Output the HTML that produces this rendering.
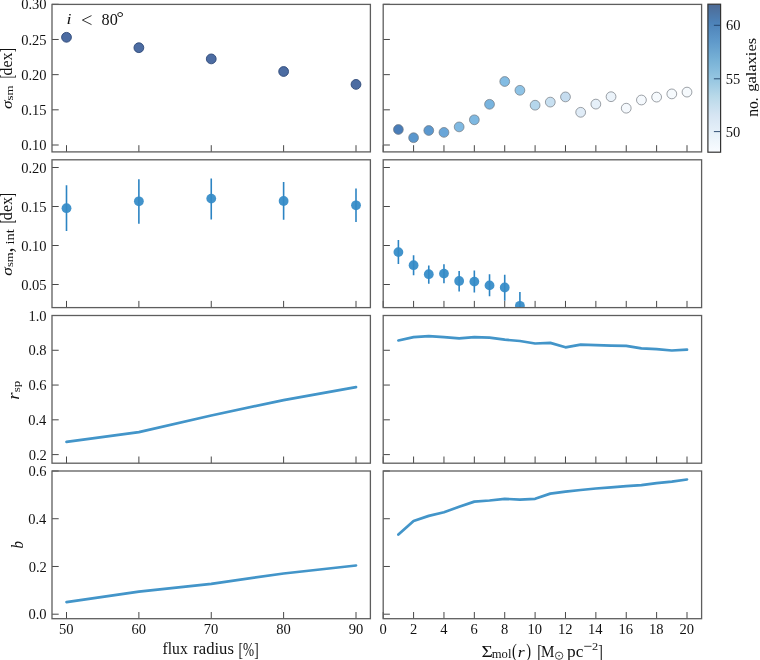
<!DOCTYPE html><html><head><meta charset="utf-8"><style>html,body{margin:0;padding:0;background:#fff;width:760px;height:660px;overflow:hidden}svg{display:block;will-change:transform}text{font-family:"Liberation Serif",serif;fill:#111111}</style></head><body>
<svg width="760" height="660" viewBox="0 0 760 660">
<defs>
<clipPath id="cl0"><rect x="52.00" y="4.40" width="318.40" height="147.50"/></clipPath>
<clipPath id="cr0"><rect x="383.20" y="4.40" width="318.40" height="147.50"/></clipPath>
<clipPath id="cl1"><rect x="52.00" y="159.80" width="318.40" height="147.80"/></clipPath>
<clipPath id="cr1"><rect x="383.20" y="159.80" width="318.40" height="147.80"/></clipPath>
<clipPath id="cl2"><rect x="52.00" y="315.50" width="318.40" height="147.70"/></clipPath>
<clipPath id="cr2"><rect x="383.20" y="315.50" width="318.40" height="147.70"/></clipPath>
<clipPath id="cl3"><rect x="52.00" y="471.00" width="318.40" height="147.70"/></clipPath>
<clipPath id="cr3"><rect x="383.20" y="471.00" width="318.40" height="147.70"/></clipPath>
<linearGradient id="cb" x1="0" y1="1" x2="0" y2="0">
<stop offset="0.000" stop-color="#f9fcff"/>
<stop offset="0.125" stop-color="#e7f1f9"/>
<stop offset="0.250" stop-color="#d6e5f3"/>
<stop offset="0.375" stop-color="#b9d9e9"/>
<stop offset="0.500" stop-color="#94c5e1"/>
<stop offset="0.625" stop-color="#77b1d6"/>
<stop offset="0.750" stop-color="#5f99ca"/>
<stop offset="0.875" stop-color="#4d82b8"/>
<stop offset="1.000" stop-color="#4d6a94"/>
</linearGradient>
</defs>
<g clip-path="url(#cl0)">
<circle cx="66.50" cy="37.30" r="4.9" fill="#4c6ca2" stroke="#2f4a78" stroke-width="0.9"/>
<circle cx="138.88" cy="47.70" r="4.9" fill="#4c6ca2" stroke="#2f4a78" stroke-width="0.9"/>
<circle cx="211.25" cy="58.90" r="4.9" fill="#4c6ca2" stroke="#2f4a78" stroke-width="0.9"/>
<circle cx="283.62" cy="71.50" r="4.9" fill="#4c6ca2" stroke="#2f4a78" stroke-width="0.9"/>
<circle cx="356.00" cy="84.40" r="4.9" fill="#4c6ca2" stroke="#2f4a78" stroke-width="0.9"/>
</g>
<g clip-path="url(#cr0)">
<circle cx="398.39" cy="129.50" r="4.9" fill="#497db8" stroke="#6f757c" stroke-opacity="0.8" stroke-width="0.85"/>
<circle cx="413.58" cy="137.70" r="4.9" fill="#5a97cd" stroke="#6f757c" stroke-opacity="0.8" stroke-width="0.85"/>
<circle cx="428.77" cy="130.50" r="4.9" fill="#5b98cf" stroke="#6f757c" stroke-opacity="0.8" stroke-width="0.85"/>
<circle cx="443.96" cy="132.40" r="4.9" fill="#6aa6d8" stroke="#6f757c" stroke-opacity="0.8" stroke-width="0.85"/>
<circle cx="459.15" cy="126.90" r="4.9" fill="#7fb9e2" stroke="#6f757c" stroke-opacity="0.8" stroke-width="0.85"/>
<circle cx="474.34" cy="119.80" r="4.9" fill="#7eb8e1" stroke="#6f757c" stroke-opacity="0.8" stroke-width="0.85"/>
<circle cx="489.53" cy="104.30" r="4.9" fill="#78b4df" stroke="#6f757c" stroke-opacity="0.8" stroke-width="0.85"/>
<circle cx="504.72" cy="81.50" r="4.9" fill="#83bce3" stroke="#6f757c" stroke-opacity="0.8" stroke-width="0.85"/>
<circle cx="519.91" cy="90.30" r="4.9" fill="#8ec3e6" stroke="#6f757c" stroke-opacity="0.8" stroke-width="0.85"/>
<circle cx="535.10" cy="105.20" r="4.9" fill="#b5d6ec" stroke="#6f757c" stroke-opacity="0.8" stroke-width="0.85"/>
<circle cx="550.29" cy="102.10" r="4.9" fill="#c8e0f1" stroke="#6f757c" stroke-opacity="0.8" stroke-width="0.85"/>
<circle cx="565.48" cy="96.90" r="4.9" fill="#c5dcef" stroke="#6f757c" stroke-opacity="0.8" stroke-width="0.85"/>
<circle cx="580.67" cy="112.30" r="4.9" fill="#e0ecf7" stroke="#6f757c" stroke-opacity="0.8" stroke-width="0.85"/>
<circle cx="595.86" cy="104.10" r="4.9" fill="#e6f0f9" stroke="#6f757c" stroke-opacity="0.8" stroke-width="0.85"/>
<circle cx="611.05" cy="96.70" r="4.9" fill="#ebf3fa" stroke="#6f757c" stroke-opacity="0.8" stroke-width="0.85"/>
<circle cx="626.24" cy="108.20" r="4.9" fill="#f5f9fd" stroke="#6f757c" stroke-opacity="0.8" stroke-width="0.85"/>
<circle cx="641.43" cy="100.00" r="4.9" fill="#f5f9fd" stroke="#6f757c" stroke-opacity="0.8" stroke-width="0.85"/>
<circle cx="656.62" cy="97.10" r="4.9" fill="#f6fafd" stroke="#6f757c" stroke-opacity="0.8" stroke-width="0.85"/>
<circle cx="671.81" cy="93.90" r="4.9" fill="#f6fafd" stroke="#6f757c" stroke-opacity="0.8" stroke-width="0.85"/>
<circle cx="687.00" cy="92.10" r="4.9" fill="#f6fafd" stroke="#6f757c" stroke-opacity="0.8" stroke-width="0.85"/>
</g>
<g clip-path="url(#cl1)">
<line x1="66.50" y1="185.20" x2="66.50" y2="230.90" stroke="#2c84c3" stroke-width="1.6"/>
<circle cx="66.50" cy="208.20" r="4.9" fill="#348bc7" fill-opacity="0.93"/>
<line x1="138.88" y1="179.20" x2="138.88" y2="223.80" stroke="#2c84c3" stroke-width="1.6"/>
<circle cx="138.88" cy="201.30" r="4.9" fill="#348bc7" fill-opacity="0.93"/>
<line x1="211.25" y1="178.40" x2="211.25" y2="219.50" stroke="#2c84c3" stroke-width="1.6"/>
<circle cx="211.25" cy="198.60" r="4.9" fill="#348bc7" fill-opacity="0.93"/>
<line x1="283.62" y1="182.00" x2="283.62" y2="219.80" stroke="#2c84c3" stroke-width="1.6"/>
<circle cx="283.62" cy="201.00" r="4.9" fill="#348bc7" fill-opacity="0.93"/>
<line x1="356.00" y1="188.40" x2="356.00" y2="221.90" stroke="#2c84c3" stroke-width="1.6"/>
<circle cx="356.00" cy="205.30" r="4.9" fill="#348bc7" fill-opacity="0.93"/>
</g>
<g clip-path="url(#cr1)">
<line x1="398.39" y1="240.10" x2="398.39" y2="264.10" stroke="#2c84c3" stroke-width="1.6"/>
<circle cx="398.39" cy="252.10" r="4.9" fill="#348bc7" fill-opacity="0.93"/>
<line x1="413.58" y1="255.30" x2="413.58" y2="275.30" stroke="#2c84c3" stroke-width="1.6"/>
<circle cx="413.58" cy="265.20" r="4.9" fill="#348bc7" fill-opacity="0.93"/>
<line x1="428.77" y1="265.40" x2="428.77" y2="283.70" stroke="#2c84c3" stroke-width="1.6"/>
<circle cx="428.77" cy="274.20" r="4.9" fill="#348bc7" fill-opacity="0.93"/>
<line x1="443.96" y1="264.30" x2="443.96" y2="283.30" stroke="#2c84c3" stroke-width="1.6"/>
<circle cx="443.96" cy="273.60" r="4.9" fill="#348bc7" fill-opacity="0.93"/>
<line x1="459.15" y1="271.00" x2="459.15" y2="291.50" stroke="#2c84c3" stroke-width="1.6"/>
<circle cx="459.15" cy="281.00" r="4.9" fill="#348bc7" fill-opacity="0.93"/>
<line x1="474.34" y1="270.60" x2="474.34" y2="292.50" stroke="#2c84c3" stroke-width="1.6"/>
<circle cx="474.34" cy="281.60" r="4.9" fill="#348bc7" fill-opacity="0.93"/>
<line x1="489.53" y1="274.20" x2="489.53" y2="296.30" stroke="#2c84c3" stroke-width="1.6"/>
<circle cx="489.53" cy="285.40" r="4.9" fill="#348bc7" fill-opacity="0.93"/>
<line x1="504.72" y1="274.80" x2="504.72" y2="300.80" stroke="#2c84c3" stroke-width="1.6"/>
<circle cx="504.72" cy="287.50" r="4.9" fill="#348bc7" fill-opacity="0.93"/>
<line x1="519.91" y1="292.10" x2="519.91" y2="320.00" stroke="#2c84c3" stroke-width="1.6"/>
<circle cx="519.91" cy="305.80" r="4.9" fill="#348bc7" fill-opacity="0.93"/>
</g>
<polyline clip-path="url(#cl2)" fill="none" stroke="#4395c9" stroke-width="2.7" stroke-linejoin="round" stroke-linecap="round" points="66.50,441.80 138.88,432.10 211.25,415.50 283.62,400.10 356.00,387.10"/>
<polyline clip-path="url(#cr2)" fill="none" stroke="#4395c9" stroke-width="2.7" stroke-linejoin="round" stroke-linecap="round" points="398.39,340.50 413.58,337.10 428.77,336.10 443.96,337.10 459.15,338.40 474.34,337.20 489.53,337.60 504.72,339.70 519.91,341.00 535.10,343.50 550.29,342.90 565.48,347.30 580.67,344.60 595.86,345.20 611.05,345.60 626.24,345.80 641.43,348.40 656.62,349.20 671.81,350.50 687.00,349.60"/>
<polyline clip-path="url(#cl3)" fill="none" stroke="#4395c9" stroke-width="2.7" stroke-linejoin="round" stroke-linecap="round" points="66.50,602.10 138.88,591.60 211.25,583.80 283.62,573.50 356.00,565.50"/>
<polyline clip-path="url(#cr3)" fill="none" stroke="#4395c9" stroke-width="2.7" stroke-linejoin="round" stroke-linecap="round" points="398.39,534.60 413.58,521.00 428.77,515.90 443.96,512.30 459.15,506.80 474.34,501.60 489.53,500.50 504.72,498.80 519.91,499.70 535.10,498.80 550.29,493.60 565.48,491.70 580.67,490.00 595.86,488.50 611.05,487.30 626.24,486.20 641.43,485.20 656.62,483.10 671.81,481.60 687.00,479.50"/>
<line x1="66.50" y1="151.90" x2="66.50" y2="145.20" stroke="#484848" stroke-width="1.0"/>
<line x1="138.88" y1="151.90" x2="138.88" y2="145.20" stroke="#484848" stroke-width="1.0"/>
<line x1="211.25" y1="151.90" x2="211.25" y2="145.20" stroke="#484848" stroke-width="1.0"/>
<line x1="283.62" y1="151.90" x2="283.62" y2="145.20" stroke="#484848" stroke-width="1.0"/>
<line x1="356.00" y1="151.90" x2="356.00" y2="145.20" stroke="#484848" stroke-width="1.0"/>
<line x1="52.00" y1="145.00" x2="58.70" y2="145.00" stroke="#484848" stroke-width="1.0"/>
<line x1="52.00" y1="109.82" x2="58.70" y2="109.82" stroke="#484848" stroke-width="1.0"/>
<line x1="52.00" y1="74.65" x2="58.70" y2="74.65" stroke="#484848" stroke-width="1.0"/>
<line x1="52.00" y1="39.47" x2="58.70" y2="39.47" stroke="#484848" stroke-width="1.0"/>
<line x1="52.00" y1="4.30" x2="58.70" y2="4.30" stroke="#484848" stroke-width="1.0"/>
<rect x="52.00" y="4.40" width="318.40" height="147.50" fill="none" stroke="#5e5e5e" stroke-width="1.3"/>
<line x1="383.20" y1="151.90" x2="383.20" y2="145.20" stroke="#484848" stroke-width="1.0"/>
<line x1="413.58" y1="151.90" x2="413.58" y2="145.20" stroke="#484848" stroke-width="1.0"/>
<line x1="443.96" y1="151.90" x2="443.96" y2="145.20" stroke="#484848" stroke-width="1.0"/>
<line x1="474.34" y1="151.90" x2="474.34" y2="145.20" stroke="#484848" stroke-width="1.0"/>
<line x1="504.72" y1="151.90" x2="504.72" y2="145.20" stroke="#484848" stroke-width="1.0"/>
<line x1="535.10" y1="151.90" x2="535.10" y2="145.20" stroke="#484848" stroke-width="1.0"/>
<line x1="565.48" y1="151.90" x2="565.48" y2="145.20" stroke="#484848" stroke-width="1.0"/>
<line x1="595.86" y1="151.90" x2="595.86" y2="145.20" stroke="#484848" stroke-width="1.0"/>
<line x1="626.24" y1="151.90" x2="626.24" y2="145.20" stroke="#484848" stroke-width="1.0"/>
<line x1="656.62" y1="151.90" x2="656.62" y2="145.20" stroke="#484848" stroke-width="1.0"/>
<line x1="687.00" y1="151.90" x2="687.00" y2="145.20" stroke="#484848" stroke-width="1.0"/>
<line x1="383.20" y1="145.00" x2="389.90" y2="145.00" stroke="#484848" stroke-width="1.0"/>
<line x1="383.20" y1="109.82" x2="389.90" y2="109.82" stroke="#484848" stroke-width="1.0"/>
<line x1="383.20" y1="74.65" x2="389.90" y2="74.65" stroke="#484848" stroke-width="1.0"/>
<line x1="383.20" y1="39.47" x2="389.90" y2="39.47" stroke="#484848" stroke-width="1.0"/>
<line x1="383.20" y1="4.30" x2="389.90" y2="4.30" stroke="#484848" stroke-width="1.0"/>
<rect x="383.20" y="4.40" width="318.40" height="147.50" fill="none" stroke="#5e5e5e" stroke-width="1.3"/>
<line x1="66.50" y1="307.60" x2="66.50" y2="300.90" stroke="#484848" stroke-width="1.0"/>
<line x1="138.88" y1="307.60" x2="138.88" y2="300.90" stroke="#484848" stroke-width="1.0"/>
<line x1="211.25" y1="307.60" x2="211.25" y2="300.90" stroke="#484848" stroke-width="1.0"/>
<line x1="283.62" y1="307.60" x2="283.62" y2="300.90" stroke="#484848" stroke-width="1.0"/>
<line x1="356.00" y1="307.60" x2="356.00" y2="300.90" stroke="#484848" stroke-width="1.0"/>
<line x1="52.00" y1="284.50" x2="58.70" y2="284.50" stroke="#484848" stroke-width="1.0"/>
<line x1="52.00" y1="245.50" x2="58.70" y2="245.50" stroke="#484848" stroke-width="1.0"/>
<line x1="52.00" y1="206.50" x2="58.70" y2="206.50" stroke="#484848" stroke-width="1.0"/>
<line x1="52.00" y1="167.50" x2="58.70" y2="167.50" stroke="#484848" stroke-width="1.0"/>
<rect x="52.00" y="159.80" width="318.40" height="147.80" fill="none" stroke="#5e5e5e" stroke-width="1.3"/>
<line x1="383.20" y1="307.60" x2="383.20" y2="300.90" stroke="#484848" stroke-width="1.0"/>
<line x1="413.58" y1="307.60" x2="413.58" y2="300.90" stroke="#484848" stroke-width="1.0"/>
<line x1="443.96" y1="307.60" x2="443.96" y2="300.90" stroke="#484848" stroke-width="1.0"/>
<line x1="474.34" y1="307.60" x2="474.34" y2="300.90" stroke="#484848" stroke-width="1.0"/>
<line x1="504.72" y1="307.60" x2="504.72" y2="300.90" stroke="#484848" stroke-width="1.0"/>
<line x1="535.10" y1="307.60" x2="535.10" y2="300.90" stroke="#484848" stroke-width="1.0"/>
<line x1="565.48" y1="307.60" x2="565.48" y2="300.90" stroke="#484848" stroke-width="1.0"/>
<line x1="595.86" y1="307.60" x2="595.86" y2="300.90" stroke="#484848" stroke-width="1.0"/>
<line x1="626.24" y1="307.60" x2="626.24" y2="300.90" stroke="#484848" stroke-width="1.0"/>
<line x1="656.62" y1="307.60" x2="656.62" y2="300.90" stroke="#484848" stroke-width="1.0"/>
<line x1="687.00" y1="307.60" x2="687.00" y2="300.90" stroke="#484848" stroke-width="1.0"/>
<line x1="383.20" y1="284.50" x2="389.90" y2="284.50" stroke="#484848" stroke-width="1.0"/>
<line x1="383.20" y1="245.50" x2="389.90" y2="245.50" stroke="#484848" stroke-width="1.0"/>
<line x1="383.20" y1="206.50" x2="389.90" y2="206.50" stroke="#484848" stroke-width="1.0"/>
<line x1="383.20" y1="167.50" x2="389.90" y2="167.50" stroke="#484848" stroke-width="1.0"/>
<rect x="383.20" y="159.80" width="318.40" height="147.80" fill="none" stroke="#5e5e5e" stroke-width="1.3"/>
<line x1="66.50" y1="463.20" x2="66.50" y2="456.50" stroke="#484848" stroke-width="1.0"/>
<line x1="138.88" y1="463.20" x2="138.88" y2="456.50" stroke="#484848" stroke-width="1.0"/>
<line x1="211.25" y1="463.20" x2="211.25" y2="456.50" stroke="#484848" stroke-width="1.0"/>
<line x1="283.62" y1="463.20" x2="283.62" y2="456.50" stroke="#484848" stroke-width="1.0"/>
<line x1="356.00" y1="463.20" x2="356.00" y2="456.50" stroke="#484848" stroke-width="1.0"/>
<line x1="52.00" y1="454.60" x2="58.70" y2="454.60" stroke="#484848" stroke-width="1.0"/>
<line x1="52.00" y1="419.82" x2="58.70" y2="419.82" stroke="#484848" stroke-width="1.0"/>
<line x1="52.00" y1="385.05" x2="58.70" y2="385.05" stroke="#484848" stroke-width="1.0"/>
<line x1="52.00" y1="350.27" x2="58.70" y2="350.27" stroke="#484848" stroke-width="1.0"/>
<line x1="52.00" y1="315.50" x2="58.70" y2="315.50" stroke="#484848" stroke-width="1.0"/>
<rect x="52.00" y="315.50" width="318.40" height="147.70" fill="none" stroke="#5e5e5e" stroke-width="1.3"/>
<line x1="383.20" y1="463.20" x2="383.20" y2="456.50" stroke="#484848" stroke-width="1.0"/>
<line x1="413.58" y1="463.20" x2="413.58" y2="456.50" stroke="#484848" stroke-width="1.0"/>
<line x1="443.96" y1="463.20" x2="443.96" y2="456.50" stroke="#484848" stroke-width="1.0"/>
<line x1="474.34" y1="463.20" x2="474.34" y2="456.50" stroke="#484848" stroke-width="1.0"/>
<line x1="504.72" y1="463.20" x2="504.72" y2="456.50" stroke="#484848" stroke-width="1.0"/>
<line x1="535.10" y1="463.20" x2="535.10" y2="456.50" stroke="#484848" stroke-width="1.0"/>
<line x1="565.48" y1="463.20" x2="565.48" y2="456.50" stroke="#484848" stroke-width="1.0"/>
<line x1="595.86" y1="463.20" x2="595.86" y2="456.50" stroke="#484848" stroke-width="1.0"/>
<line x1="626.24" y1="463.20" x2="626.24" y2="456.50" stroke="#484848" stroke-width="1.0"/>
<line x1="656.62" y1="463.20" x2="656.62" y2="456.50" stroke="#484848" stroke-width="1.0"/>
<line x1="687.00" y1="463.20" x2="687.00" y2="456.50" stroke="#484848" stroke-width="1.0"/>
<line x1="383.20" y1="454.60" x2="389.90" y2="454.60" stroke="#484848" stroke-width="1.0"/>
<line x1="383.20" y1="419.82" x2="389.90" y2="419.82" stroke="#484848" stroke-width="1.0"/>
<line x1="383.20" y1="385.05" x2="389.90" y2="385.05" stroke="#484848" stroke-width="1.0"/>
<line x1="383.20" y1="350.27" x2="389.90" y2="350.27" stroke="#484848" stroke-width="1.0"/>
<line x1="383.20" y1="315.50" x2="389.90" y2="315.50" stroke="#484848" stroke-width="1.0"/>
<rect x="383.20" y="315.50" width="318.40" height="147.70" fill="none" stroke="#5e5e5e" stroke-width="1.3"/>
<line x1="66.50" y1="618.70" x2="66.50" y2="612.00" stroke="#484848" stroke-width="1.0"/>
<line x1="138.88" y1="618.70" x2="138.88" y2="612.00" stroke="#484848" stroke-width="1.0"/>
<line x1="211.25" y1="618.70" x2="211.25" y2="612.00" stroke="#484848" stroke-width="1.0"/>
<line x1="283.62" y1="618.70" x2="283.62" y2="612.00" stroke="#484848" stroke-width="1.0"/>
<line x1="356.00" y1="618.70" x2="356.00" y2="612.00" stroke="#484848" stroke-width="1.0"/>
<line x1="52.00" y1="614.20" x2="58.70" y2="614.20" stroke="#484848" stroke-width="1.0"/>
<line x1="52.00" y1="566.47" x2="58.70" y2="566.47" stroke="#484848" stroke-width="1.0"/>
<line x1="52.00" y1="518.73" x2="58.70" y2="518.73" stroke="#484848" stroke-width="1.0"/>
<line x1="52.00" y1="471.00" x2="58.70" y2="471.00" stroke="#484848" stroke-width="1.0"/>
<rect x="52.00" y="471.00" width="318.40" height="147.70" fill="none" stroke="#5e5e5e" stroke-width="1.3"/>
<line x1="383.20" y1="618.70" x2="383.20" y2="612.00" stroke="#484848" stroke-width="1.0"/>
<line x1="413.58" y1="618.70" x2="413.58" y2="612.00" stroke="#484848" stroke-width="1.0"/>
<line x1="443.96" y1="618.70" x2="443.96" y2="612.00" stroke="#484848" stroke-width="1.0"/>
<line x1="474.34" y1="618.70" x2="474.34" y2="612.00" stroke="#484848" stroke-width="1.0"/>
<line x1="504.72" y1="618.70" x2="504.72" y2="612.00" stroke="#484848" stroke-width="1.0"/>
<line x1="535.10" y1="618.70" x2="535.10" y2="612.00" stroke="#484848" stroke-width="1.0"/>
<line x1="565.48" y1="618.70" x2="565.48" y2="612.00" stroke="#484848" stroke-width="1.0"/>
<line x1="595.86" y1="618.70" x2="595.86" y2="612.00" stroke="#484848" stroke-width="1.0"/>
<line x1="626.24" y1="618.70" x2="626.24" y2="612.00" stroke="#484848" stroke-width="1.0"/>
<line x1="656.62" y1="618.70" x2="656.62" y2="612.00" stroke="#484848" stroke-width="1.0"/>
<line x1="687.00" y1="618.70" x2="687.00" y2="612.00" stroke="#484848" stroke-width="1.0"/>
<line x1="383.20" y1="614.20" x2="389.90" y2="614.20" stroke="#484848" stroke-width="1.0"/>
<line x1="383.20" y1="566.47" x2="389.90" y2="566.47" stroke="#484848" stroke-width="1.0"/>
<line x1="383.20" y1="518.73" x2="389.90" y2="518.73" stroke="#484848" stroke-width="1.0"/>
<line x1="383.20" y1="471.00" x2="389.90" y2="471.00" stroke="#484848" stroke-width="1.0"/>
<rect x="383.20" y="471.00" width="318.40" height="147.70" fill="none" stroke="#5e5e5e" stroke-width="1.3"/>
<rect x="707.90" y="4.20" width="12.70" height="148.00" fill="url(#cb)"/>
<line x1="713.90" y1="25.30" x2="720.60" y2="25.30" stroke="#1f3f66" stroke-width="0.9"/>
<line x1="713.90" y1="78.80" x2="720.60" y2="78.80" stroke="#1f3f66" stroke-width="0.9"/>
<line x1="713.90" y1="131.60" x2="720.60" y2="131.60" stroke="#1f3f66" stroke-width="0.9"/>
<rect x="707.90" y="4.20" width="12.70" height="148.00" fill="none" stroke="#333" stroke-width="1.2"/>
<circle cx="559.1" cy="655.7" r="3.7" fill="none" stroke="#111111" stroke-width="0.75"/><circle cx="559.1" cy="655.7" r="0.8" fill="#111111"/>
<polyline points="91.5,15.6 82.4,20.1 91.5,24.6" fill="none" stroke="#111111" stroke-width="0.85"/>
<line x1="584.2" y1="646.3" x2="591.6" y2="646.3" stroke="#111111" stroke-width="0.8"/>
<g>
<g transform="matrix(1.0426,0.0000,0.0000,1.0476,162.579,654.100)"><text font-size="15">flux</text></g>
<g transform="matrix(1.1105,0.0000,0.0000,1.0732,193.222,654.100)"><text font-size="15">radius</text></g>
<g transform="matrix(0.8878,0.0000,0.0000,1.2898,238.612,655.520)"><text font-size="15">[%]</text></g>
<g transform="matrix(1.2974,0.0000,0.0000,1.1282,481.436,657.100)"><text font-size="15">&#931;</text></g>
<g transform="matrix(1.1522,0.0000,0.0000,1.1226,491.762,658.250)"><text font-size="11">mol</text></g>
<g transform="matrix(0.9600,0.0000,0.0000,1.2075,511.880,657.077)"><text font-size="15">(</text></g>
<g transform="matrix(1.1829,0.0000,0.0000,1.0286,517.656,656.900)"><text font-size="15" font-style="italic">r</text></g>
<g transform="matrix(0.9600,0.0000,0.0000,1.2075,526.320,657.077)"><text font-size="15">)</text></g>
<g transform="matrix(0.9429,0.0000,0.0000,1.3061,537.157,658.088)"><text font-size="15">[</text></g>
<g transform="matrix(1.0080,0.0000,0.0000,1.0974,540.896,656.800)"><text font-size="15">M</text></g>
<g transform="matrix(1.1556,0.0000,0.0000,1.0927,567.111,657.049)"><text font-size="15">pc</text></g>
<g transform="matrix(1.1262,0.0000,0.0000,0.9793,591.903,649.900)"><text font-size="11">2</text></g>
<g transform="matrix(0.9143,0.0000,0.0000,1.3061,598.243,658.088)"><text font-size="15">]</text></g>
<g transform="matrix(1.1960,0.0000,0.0000,1.0400,66.459,24.100)"><text font-size="15" font-style="italic">i</text></g>
<g transform="matrix(1.0786,0.0000,0.0000,1.0800,101.561,24.500)"><text font-size="15">80</text></g>
<g transform="matrix(1.2222,0.0000,0.0000,1.1556,116.583,23.456)"><text font-size="15">&#176;</text></g>
<g transform="matrix(0.0000,-1.1723,1.0194,0.0000,12.300,109.086)"><text font-size="15" font-style="italic">&#963;</text></g>
<g transform="matrix(0.0000,-1.1709,1.0182,0.0000,13.245,100.607)"><text font-size="11">sm</text></g>
<g transform="matrix(0.0000,-0.8000,1.2408,0.0000,12.518,78.600)"><text font-size="15">[</text></g>
<g transform="matrix(0.0000,-1.0619,1.0634,0.0000,11.800,75.431)"><text font-size="15">dex</text></g>
<g transform="matrix(0.0000,-0.8286,1.2408,0.0000,12.518,52.314)"><text font-size="15">]</text></g>
<g transform="matrix(0.0000,-1.1574,1.0065,0.0000,12.300,275.724)"><text font-size="15" font-style="italic">&#963;</text></g>
<g transform="matrix(0.0000,-1.1500,1.0000,0.0000,13.350,267.069)"><text font-size="11">sm</text></g>
<g transform="matrix(0.0000,-1.8000,2.1600,0.0000,11.760,252.400)"><text font-size="11">,</text></g>
<g transform="matrix(0.0000,-1.3156,1.1586,0.0000,13.600,244.529)"><text font-size="11">int</text></g>
<g transform="matrix(0.0000,-0.7429,1.2408,0.0000,12.518,223.343)"><text font-size="15">[</text></g>
<g transform="matrix(0.0000,-1.0714,1.0537,0.0000,11.700,220.136)"><text font-size="15">dex</text></g>
<g transform="matrix(0.0000,-0.7714,1.2408,0.0000,12.518,196.886)"><text font-size="15">]</text></g>
<g transform="matrix(0.0000,-1.2486,1.0857,0.0000,18.800,399.658)"><text font-size="15" font-style="italic">r</text></g>
<g transform="matrix(0.0000,-1.1871,1.0323,0.0000,20.019,392.237)"><text font-size="11">sp</text></g>
<g transform="matrix(0.0000,-0.9846,1.1024,0.0000,22.500,548.392)"><text font-size="15" font-style="italic">b</text></g>
<g transform="matrix(0.0000,-1.0343,1.0897,0.0000,757.728,116.859)"><text font-size="15">no.</text></g>
<g transform="matrix(0.0000,-1.0974,0.9926,0.0000,756.474,91.823)"><text font-size="15">galaxies</text></g>
<g transform="matrix(0.9683,0,0,0.9268,21.166,150.118)"><text font-size="15">0.10</text></g>
<g transform="matrix(0.9683,0,0,0.9268,21.166,114.943)"><text font-size="15">0.15</text></g>
<g transform="matrix(0.9683,0,0,0.9268,21.166,79.768)"><text font-size="15">0.20</text></g>
<g transform="matrix(0.9683,0,0,0.9268,21.166,44.593)"><text font-size="15">0.25</text></g>
<g transform="matrix(0.9683,0,0,0.9268,21.166,9.418)"><text font-size="15">0.30</text></g>
<g transform="matrix(0.9683,0,0,0.9268,21.166,289.618)"><text font-size="15">0.05</text></g>
<g transform="matrix(0.9683,0,0,0.9268,21.166,250.618)"><text font-size="15">0.10</text></g>
<g transform="matrix(0.9683,0,0,0.9268,21.166,211.618)"><text font-size="15">0.15</text></g>
<g transform="matrix(0.9683,0,0,0.9268,21.166,172.618)"><text font-size="15">0.20</text></g>
<g transform="matrix(0.9683,0,0,0.9268,28.670,459.718)"><text font-size="15">0.2</text></g>
<g transform="matrix(0.9683,0,0,0.9268,28.186,424.943)"><text font-size="15">0.4</text></g>
<g transform="matrix(0.9683,0,0,0.9268,28.428,390.168)"><text font-size="15">0.6</text></g>
<g transform="matrix(0.9683,0,0,0.9268,28.428,355.393)"><text font-size="15">0.8</text></g>
<g transform="matrix(0.9683,0,0,0.9268,28.428,320.618)"><text font-size="15">1.0</text></g>
<g transform="matrix(0.9683,0,0,0.9268,28.428,619.318)"><text font-size="15">0.0</text></g>
<g transform="matrix(0.9683,0,0,0.9268,28.670,571.585)"><text font-size="15">0.2</text></g>
<g transform="matrix(0.9683,0,0,0.9268,28.186,523.852)"><text font-size="15">0.4</text></g>
<g transform="matrix(0.9683,0,0,0.9268,28.428,476.118)"><text font-size="15">0.6</text></g>
<g transform="matrix(0.9683,0,0,0.9268,58.996,633.834)"><text font-size="15">50</text></g>
<g transform="matrix(0.9683,0,0,0.9268,131.492,633.834)"><text font-size="15">60</text></g>
<g transform="matrix(0.9683,0,0,0.9268,203.746,633.834)"><text font-size="15">70</text></g>
<g transform="matrix(0.9683,0,0,0.9268,276.363,633.834)"><text font-size="15">80</text></g>
<g transform="matrix(0.9683,0,0,0.9268,348.738,633.834)"><text font-size="15">90</text></g>
<g transform="matrix(0.9683,0,0,0.9268,379.569,633.834)"><text font-size="15">0</text></g>
<g transform="matrix(0.9683,0,0,0.9268,409.949,633.834)"><text font-size="15">2</text></g>
<g transform="matrix(0.9683,0,0,0.9268,440.329,633.718)"><text font-size="15">4</text></g>
<g transform="matrix(0.9683,0,0,0.9268,470.588,633.834)"><text font-size="15">6</text></g>
<g transform="matrix(0.9683,0,0,0.9268,501.089,633.834)"><text font-size="15">8</text></g>
<g transform="matrix(0.9683,0,0,0.9268,527.475,633.834)"><text font-size="15">10</text></g>
<g transform="matrix(0.9683,0,0,0.9268,557.976,633.834)"><text font-size="15">12</text></g>
<g transform="matrix(0.9683,0,0,0.9268,588.113,633.718)"><text font-size="15">14</text></g>
<g transform="matrix(0.9683,0,0,0.9268,618.615,633.834)"><text font-size="15">16</text></g>
<g transform="matrix(0.9683,0,0,0.9268,648.995,633.834)"><text font-size="15">18</text></g>
<g transform="matrix(0.9683,0,0,0.9268,679.617,633.834)"><text font-size="15">20</text></g>
<g transform="matrix(0.9683,0,0,0.9268,725.924,30.334)"><text font-size="15">60</text></g>
<g transform="matrix(0.9683,0,0,0.9268,725.682,83.718)"><text font-size="15">55</text></g>
<g transform="matrix(0.9683,0,0,0.9268,725.682,136.634)"><text font-size="15">50</text></g>
</g>
</svg></body></html>
